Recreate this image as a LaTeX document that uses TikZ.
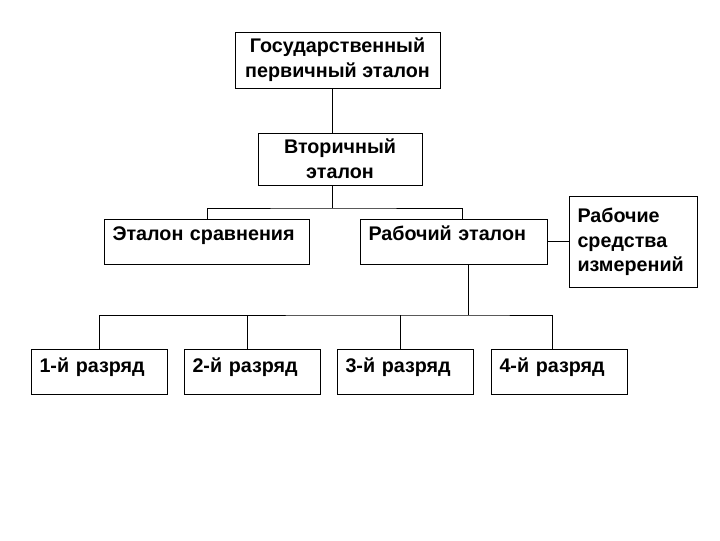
\documentclass[tikz,border=0pt]{standalone}
\usepackage{fontspec}
\setmainfont{Liberation Sans}

\tikzset{
	box/.style={draw, line width=0.75pt, rectangle, font=\bfseries\fontsize{14.8}{18.5}\selectfont},
	cell/.style={box, anchor=north west, align=left, inner xsep=6pt, inner ysep=0pt, text height=16pt, text depth=17.5pt},
	link/.style={line width=0.75pt}
}

\begin{document}
\begin{tikzpicture}[x=0.75pt,y=-0.75pt]
	\useasboundingbox (0,0) rectangle (720,540);

	\node[box, align=center, minimum width=153.75pt, minimum height=42pt, inner sep=0pt] (gos) at (337.5,60) {Государственный\\первичный эталон};
	\node[box, align=center, minimum width=123pt, minimum height=39pt, inner sep=0pt] (vtor) at (340,159) {Вторичный\\эталон};

	\node[cell, text width=141.75pt] (sravn) at (104,219) {Эталон сравнения};
	\node[cell, text width=128.25pt] (rab) at (360,219) {Рабочий эталон};
	\node[box, anchor=north west, align=left, text width=84pt, minimum height=68.25pt, inner xsep=6pt, inner ysep=0pt] (sredstva) at (569,196) {Рабочие\\средства\\измерений};

	\foreach \i/\x in {1/31,2/184,3/337,4/491}
		\node[cell, text width=90pt, text height=17.5pt, text depth=16pt] (r\i) at (\x,349) {\i-й разряд};

	\coordinate (bus1) at (332,208);
	\coordinate (bus2) at (468,315);

	\draw[link] (gos.south -| bus1) -- (vtor.north -| bus1);
	\draw[link] (vtor.south -| bus1) -- (bus1);
	\draw[link] (sravn.north) |- (bus1) -| ([xshift=6.4pt]rab.north);
	\draw[link] (rab.east) -- (rab.east -| sredstva.west);

	\draw[link] (rab.south -| bus2) -- (bus2);
	\draw[link] (r1.north) |- (bus2) -| ([xshift=-5.25pt]r4.north);
	\draw[link] ([xshift=-3.75pt]r2.north) -- ++(0,-34);
	\draw[link] ([xshift=-3.75pt]r3.north) -- ++(0,-34);
\end{tikzpicture}
\end{document}
